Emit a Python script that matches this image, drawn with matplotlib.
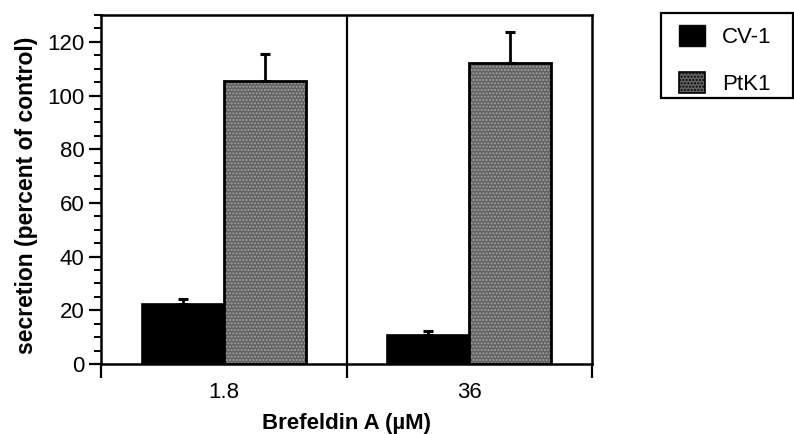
import matplotlib
matplotlib.use("Agg")
import matplotlib.pyplot as plt
import matplotlib.patches as mpatches
import matplotlib.transforms as mtrans
import numpy as np
from matplotlib.ticker import MultipleLocator

plt.rcParams['font.family'] = ['Liberation Sans', 'DejaVu Sans']

categories = ["1.8", "36"]
series_names = ["CV-1", "PtK1"]
cv1_values = [22.4, 10.7]
cv1_err = [1.9, 1.5]
ptk1_values = [105.4, 112.0]
ptk1_err = [10.0, 11.5]
y_ticks = [0, 20, 40, 60, 80, 100, 120]

W, H = 794, 434
fig = plt.figure(figsize=(W / 100, H / 100), dpi=100)
ax_l, ax_r, ax_t, ax_b = 101, 592, 15, 364
ax = fig.add_axes([ax_l / W, 1 - ax_b / H, (ax_r - ax_l) / W, (ax_b - ax_t) / H])

x = np.arange(len(categories))
w = 1 / 3
ptk_face = '#626262'
ptk_dots = '#a3a3a3'

ax.bar(x - w / 2, cv1_values, width=w, color='black', edgecolor='black', linewidth=1.2, zorder=2)
ax.bar(x + w / 2, ptk1_values, width=w, color=ptk_face, edgecolor=ptk_dots, linewidth=0,
       hatch='.....', zorder=2)
ax.bar(x + w / 2, ptk1_values, width=w, fill=False, edgecolor='black', linewidth=2, zorder=3)

ax.errorbar(x - w / 2, cv1_values, yerr=[np.zeros(len(cv1_err)), cv1_err], fmt='none',
            ecolor='black', elinewidth=2, capsize=3.6, capthick=2.2, zorder=4)
ax.errorbar(x + w / 2, ptk1_values, yerr=[np.zeros(len(ptk1_err)), ptk1_err], fmt='none',
            ecolor='black', elinewidth=2, capsize=3.6, capthick=2.2, zorder=4)

ax.set_xlim(-0.5, 1.5)
ax.set_ylim(0, 130)
ax.set_yticks(y_ticks)
ax.yaxis.set_minor_locator(MultipleLocator(5))

# boundary ticks pointing down, category labels centred
ax.set_xticks([-0.5, 0.5, 1.5])
ax.set_xticklabels([])
ax.tick_params(axis='x', which='major', direction='out', length=10, width=1.6)
ax.axvline(0.5, color='black', linewidth=1.6, zorder=1)

ax.tick_params(axis='y', which='major', direction='out', length=9, width=1.6, labelsize=16, pad=3)
ax.tick_params(axis='y', which='minor', direction='out', length=5, width=1.4)

for s in ax.spines.values():
    s.set_linewidth(1.8)

blend = mtrans.blended_transform_factory(ax.transData, fig.transFigure)
for xi, lab in zip(x, categories):
    ax.text(xi, 1 - 393 / H, lab, transform=blend, ha='center', va='center', fontsize=16)

fig.text(27 / W, 1 - 195 / H, 'secretion (percent of control)', rotation=90, ha='center',
         va='center', fontsize=16.5, fontweight='bold')
fig.text(((ax_l + ax_r) / 2) / W, 1 - 423 / H, 'Brefeldin A (µM)', ha='center', va='center',
         fontsize=16, fontweight='bold')

# legend
h1 = mpatches.Patch(facecolor='black', edgecolor='black', label=series_names[0])
h2 = mpatches.Patch(facecolor=ptk_face, edgecolor='black', hatch='.....', linewidth=1.2,
                    label=series_names[1])
leg = fig.legend(handles=[h1, h2], loc='upper left', bbox_to_anchor=(679 / W, 1 - 25 / H),
                 frameon=False, fontsize=16, handlelength=1.18, handleheight=1.05,
                 borderpad=0, labelspacing=1.1, handletextpad=0.77, borderaxespad=0)
fig.patches.append(mpatches.Rectangle((661 / W, 1 - 98 / H), (793 - 661) / W, (98 - 13) / H,
                                      transform=fig.transFigure, fill=False, edgecolor='black',
                                      linewidth=1.6))

fig.savefig('out.png', dpi=100)
